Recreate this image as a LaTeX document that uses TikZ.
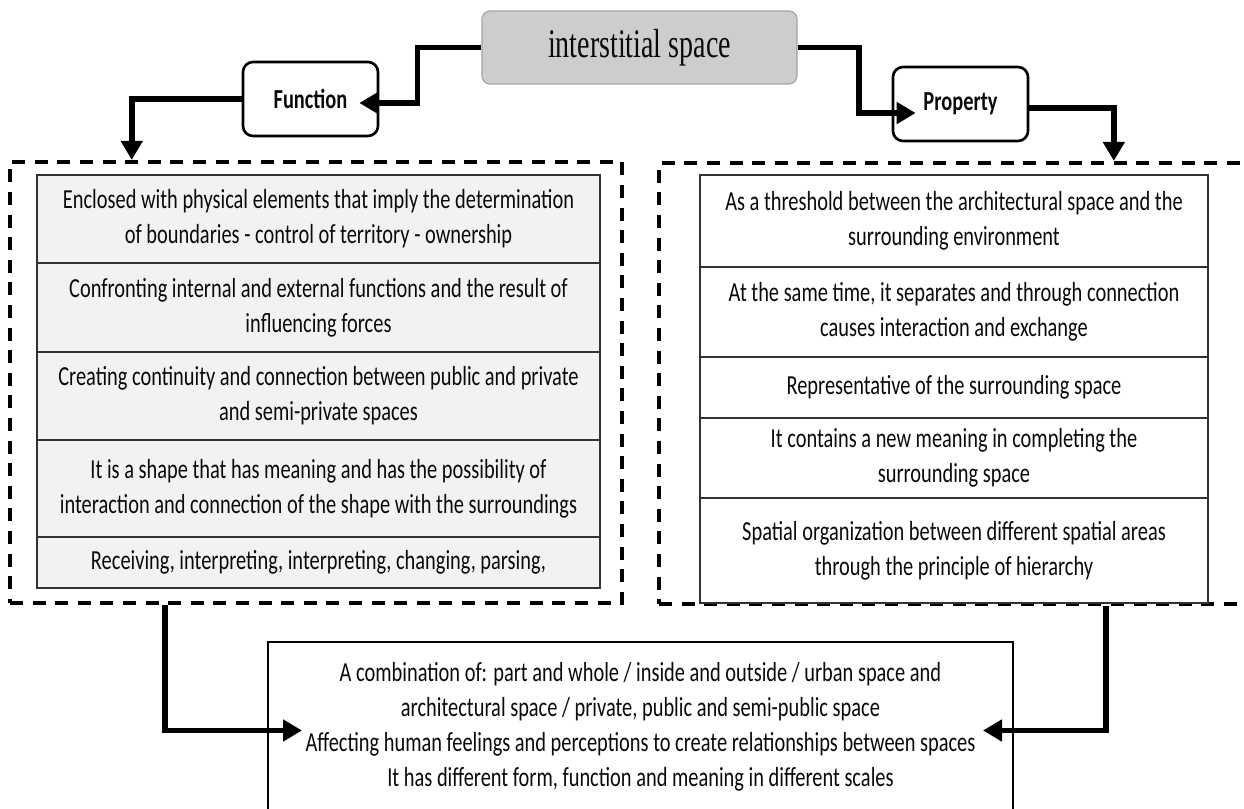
\documentclass[tikz,border=0pt]{standalone}
\usepackage{fontspec}
\setmainfont{Carlito}
\newfontfamily\titlefont{Liberation Serif}
\usepackage{graphicx}
\usetikzlibrary{arrows.meta,calc}
\definecolor{titlefill}{RGB}{205,205,205}
\definecolor{titledraw}{RGB}{165,165,165}
\definecolor{cellgray}{RGB}{242,242,242}
\definecolor{txt}{RGB}{10,10,10}
\newcommand{\vstr}[1]{\scalebox{1}[1.35]{#1}}
\newcommand{\tstr}[1]{\scalebox{1}[1.45]{#1}}
\begin{document}
\begin{tikzpicture}[x=0.5pt,y=-0.5pt,
  titlebox/.style={draw=titledraw, fill=titlefill, rounded corners=4pt, line width=0.6pt,
    minimum width=157.5pt, minimum height=36.5pt, inner sep=0pt,
    font=\titlefont\fontsize{14}{16}\selectfont, text=txt},
  catbox/.style={draw=black, line width=1.3pt, rounded corners=5pt, minimum width=67.5pt,
    minimum height=37pt, inner sep=0pt, font=\bfseries\fontsize{10.2}{12}\selectfont, text=txt},
  dashbox/.style={draw=black, line width=2.1pt, dash pattern=on 6.5pt off 4.8pt, inner sep=0pt},
  cell/.style={draw=black!80, line width=0.6pt, inner sep=0pt, align=center, text=txt,
    font=\fontsize{10.2}{17.5}\selectfont},
  lcell/.style={cell, fill=cellgray, minimum width=281.5pt},
  rcell/.style={cell, fill=white, minimum width=254pt},
  conn/.style={line width=2.9pt, -{Triangle[length=9.5pt,width=10.5pt]}},
  ]
\path[use as bounding box, clip] (0,0) rectangle (1244,809);

\node[titlebox] (T) at (639.5,47.5) {\tstr{interstitial space}};
\node[catbox] (F) at (310.5,99) {\vstr{Function}};
\node[catbox] (P) at (960.5,104) {\vstr{Property}};

\node[dashbox, minimum width=306pt, minimum height=220.5pt] (L) at (316,382.5) {};
\node[dashbox, minimum width=300.5pt, minimum height=220.5pt] (R) at (959.5,383.5) {};

\node[lcell, minimum height=44pt] (l1) at (318.5,219)
  {\vstr{Enclosed with physical elements that imply the determination}\\\vstr{of boundaries - control of territory - ownership}};
\node[lcell, minimum height=44.5pt] (l2) at (318.5,307.5)
  {\vstr{Confronting internal and external functions and the result of}\\\vstr{influencing forces}};
\node[lcell, minimum height=44pt] (l3) at (318.5,396)
  {\vstr{Creating continuity and connection between public and private}\\\vstr{and semi-private spaces}};
\node[lcell, minimum height=48.5pt] (l4) at (318.5,488.5)
  {\vstr{It is a shape that has meaning and has the possibility of}\\\vstr{interaction and connection of the shape with the surroundings}};
\node[lcell, minimum height=25.5pt] (l5) at (318.5,562.5)
  {\vstr{Receiving, interpreting, interpreting, changing, parsing,}};

\node[rcell, minimum height=46pt] (r1) at (954,221)
  {\vstr{As a threshold between the architectural space and the}\\\vstr{surrounding environment}};
\node[rcell, minimum height=45pt] (r2) at (954,312)
  {\vstr{At the same time, it separates and through connection}\\\vstr{causes interaction and exchange}};
\node[rcell, minimum height=30.5pt] (r3) at (954,387.5)
  {\vstr{Representative of the surrounding space}};
\node[rcell, minimum height=40pt] (r4) at (954,458)
  {\vstr{It contains a new meaning in completing the}\\\vstr{surrounding space}};
\node[rcell, minimum height=52.5pt] (r5) at (954,550.5)
  {\vstr{Spatial organization between different spatial areas}\\\vstr{through the principle of hierarchy}};

\node[cell, draw=black, line width=1pt, fill=white, minimum width=372.5pt, minimum height=84.5pt] (B) at (640.5,726.5)
  {\vstr{A combination of: part and whole / inside and outside / urban space and}\\
   \vstr{architectural space / private, public and semi-public space}\\
   \vstr{Affecting human feelings and perceptions to create relationships between spaces}\\
   \vstr{It has different form, function and meaning in different scales}};

\draw[conn] (T.west) -- ++(-32pt,0) |- ([xshift=-10pt,yshift=-2pt]F.east);
\draw[conn] (T.east) -- ++(30.5pt,0) |- ([xshift=12pt,yshift=-4.5pt]P.west);
\draw[conn] (F.west) -| ($(L.north west)!0.201!(L.north east)$);
\draw[conn] ([yshift=-2pt]P.east) -| ($(R.north west)!0.755!(R.north east)$);
\draw[conn] ($(L.south west)!0.255!(L.south east)$) |- ([xshift=17.5pt,yshift=-2pt]B.west);
\draw[conn] ($(R.south west)!0.742!(R.south east)$) |- ([xshift=-15.5pt,yshift=-2pt]B.east);
\end{tikzpicture}
\end{document}
